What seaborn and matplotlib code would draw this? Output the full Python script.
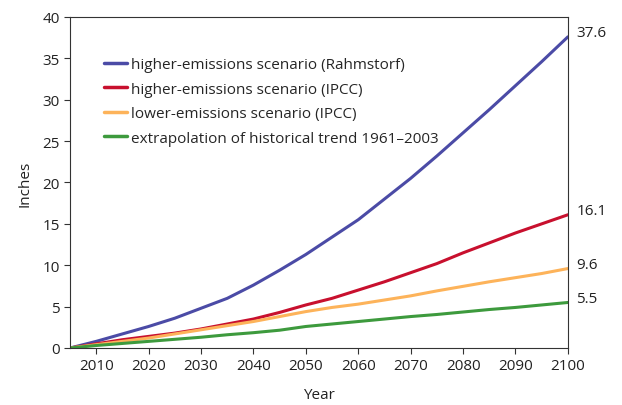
import pandas as pd
import seaborn as sns
import matplotlib.pyplot as plt

years = list(range(2005, 2101, 5))
rahmstorf = [0, 0.8, 1.7, 2.6, 3.6, 4.8, 6.0, 7.6, 9.4, 11.3, 13.4, 15.5, 18.0, 20.5, 23.2, 26.0, 28.8, 31.7, 34.6, 37.6]
ipcc_high = [0, 0.5, 1.0, 1.4, 1.8, 2.3, 2.9, 3.5, 4.3, 5.2, 6.0, 7.0, 8.0, 9.1, 10.2, 11.5, 12.7, 13.9, 15.0, 16.1]
ipcc_low = [0, 0.4, 0.8, 1.2, 1.7, 2.2, 2.7, 3.2, 3.8, 4.4, 4.9, 5.3, 5.8, 6.3, 6.9, 7.45, 8.0, 8.5, 9.0, 9.6]
historical = [0, 0.3, 0.55, 0.8, 1.05, 1.3, 1.6, 1.85, 2.15, 2.6, 2.9, 3.2, 3.5, 3.8, 4.05, 4.35, 4.65, 4.9, 5.2, 5.5]

labels = ['higher-emissions scenario (Rahmstorf)', 'higher-emissions scenario (IPCC)',
          'lower-emissions scenario (IPCC)', 'extrapolation of historical trend 1961\u20132003']
colors = ['#4b4ba6', '#c8102e', '#fdb35a', '#3d9a3d']

d = pd.concat([
    pd.DataFrame({'Year': years, 'Inches': vals, 'series': lab})
    for vals, lab in zip([rahmstorf, ipcc_high, ipcc_low, historical], labels)
])

sns.set_style('ticks')
plt.rcParams['font.family'] = ['Open Sans', 'DejaVu Sans']

fig = plt.figure(figsize=(6.22, 4.06), dpi=100)
ax = fig.add_axes([0.1125, 0.1404, 0.8005, 0.8153])
sns.lineplot(ax=ax, data=d, x='Year', y='Inches', hue='series', palette=colors, linewidth=2.2)

ax.set_xlim(2005, 2100)
ax.set_ylim(0, 40)
ax.set_xticks(range(2010, 2101, 10))
ax.set_yticks(range(0, 41, 5))
ax.tick_params(labelsize=11, length=4, color='#333333', labelcolor='#222222')
for s in ax.spines.values():
    s.set_color('#333333')
ax.set_xlabel('Year', fontsize=11, color='#222222', labelpad=10)
ax.set_ylabel('Inches', fontsize=11, color='#222222', labelpad=7)

for vals in [rahmstorf, ipcc_high, ipcc_low, historical]:
    ax.annotate(f'{vals[-1]}', xy=(2100, vals[-1]), xytext=(6, 3), textcoords='offset points',
                fontsize=11, color='#222222', va='center', annotation_clip=False)

leg = ax.legend(loc='upper left', bbox_to_anchor=(0.04, 0.92), frameon=False, fontsize=11,
                handlelength=1.5, handletextpad=0.3, labelspacing=0.62)
for line in leg.get_lines():
    line.set_linewidth(2.5)

fig.savefig('out.png', dpi=100)
